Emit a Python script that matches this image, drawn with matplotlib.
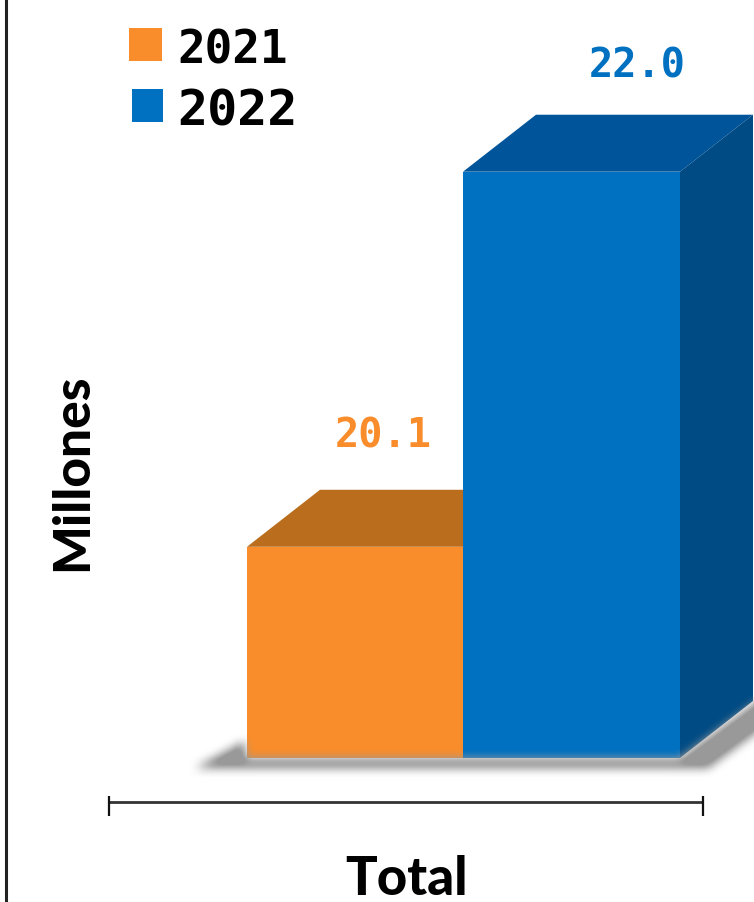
import numpy as np
import matplotlib
matplotlib.use('Agg')
import matplotlib.pyplot as plt
from matplotlib.patches import Polygon, Rectangle
from matplotlib.path import Path
from matplotlib.transforms import Affine2D

years = ['2021', '2022']
values = [20.1, 22.0]
colors = ['#F98D2B', '#0070C0']
top_colors = ['#B96D1D', '#00559A']
side_color = '#004B84'

W, H = 754, 903
base_value = 19.03
px_per_unit = 197.4
base_row = 759

fig = plt.figure(figsize=(W / 100, H / 100), dpi=100, facecolor='white')
ax = fig.add_axes([0, 0, 1, 1])
ax.patch.set_alpha(0)
ax.axis('off')
ax.set_xlim(0, W)
ax.set_ylim(base_value - (H - base_row) / px_per_unit, base_value + base_row / px_per_unit)

# pixel coordinates, origin top left
px = Affine2D().scale(1, -1).translate(0, H)


# soft grey shadow under the block
def blur(a, n):
    k = np.ones(n) / n
    for i in range(2):
        a = np.apply_along_axis(lambda r: np.convolve(r, k, mode='same'), 0, a)
        a = np.apply_along_axis(lambda r: np.convolve(r, k, mode='same'), 1, a)
    return a


xx, yy = np.meshgrid(np.arange(W + 40), np.arange(H))
pts = np.column_stack([xx.ravel(), yy.ravel()])
shape = Path([(196, 768), (244, 742), (244, 759), (680, 759), (780, 685), (780, 715), (708, 768), (196, 768)])
mask = shape.contains_points(pts).reshape(xx.shape).astype(float)
mask = blur(mask, 11)[:, :W]
rgba = np.ones((H, W, 4))
rgba[..., :3] = 0.6
rgba[..., 3] = np.clip(mask * 1.3, 0, 1)
fig.figimage(rgba, 0, 0, origin='upper', zorder=0)

bar_left = [247, 463]
bar_width = 217
depth_x, depth_y = 73, 57

heights = [v - base_value for v in values]
bars = ax.bar(bar_left, heights, width=bar_width, bottom=base_value, align='edge',
              color=colors, linewidth=0, zorder=3)

for b, tc in zip(bars, top_colors):
    x0 = b.get_x()
    x1 = x0 + b.get_width()
    top = H - ax.transData.transform((0, b.get_y() + b.get_height()))[1]
    ax.add_patch(Polygon([(x0, top), (x0 + depth_x, top - depth_y), (x1 + depth_x, top - depth_y), (x1, top)],
                         closed=True, facecolor=tc, edgecolor='none', transform=px,
                         zorder=2 if b is bars[0] else 4))

# right face of the tall bar
b = bars[1]
x1 = b.get_x() + b.get_width()
top = H - ax.transData.transform((0, b.get_y() + b.get_height()))[1]
ax.add_patch(Polygon([(x1, top), (x1 + depth_x, top - depth_y), (x1 + depth_x, base_row - depth_y), (x1, base_row)],
                     closed=True, facecolor=side_color, edgecolor='none', transform=px, zorder=4))

font = ['DejaVu Sans Mono', 'DejaVu Sans']
title_font = ['Lato', 'DejaVu Sans']

# value labels
ax.text(637, 66, '22.0', transform=px, color=colors[1], fontsize=29, fontweight='bold',
        family=font, ha='center', va='center', zorder=5)
ax.text(383, 436, '20.1', transform=px, color=colors[0], fontsize=29, fontweight='bold',
        family=font, ha='center', va='center', zorder=5)

# legend
ax.add_patch(Rectangle((129, 29), 33, 33, facecolor=colors[0], edgecolor='none', transform=px))
ax.add_patch(Rectangle((132, 90), 31, 33, facecolor=colors[1], edgecolor='none', transform=px))
ax.text(233, 51, years[0], transform=px, color='black', fontsize=33, fontweight='bold',
        family=font, ha='center', va='center')
ax.text(237, 112, years[1], transform=px, color='black', fontsize=36, fontweight='bold',
        family=font, ha='center', va='center')

# axis bracket and frame line
ax.plot([109, 703], [803, 803], transform=px, color='#333333', lw=2, solid_capstyle='butt')
ax.plot([109, 109], [797, 817], transform=px, color='#111111', lw=1.6, solid_capstyle='butt')
ax.plot([703, 703], [797, 817], transform=px, color='#111111', lw=1.6, solid_capstyle='butt')
ax.plot([6, 6], [0, H], transform=px, color='#222222', lw=2.2, solid_capstyle='butt')

ax.text(406, 880, 'Total', transform=px, color='black', fontsize=38, fontweight='black',
        family=title_font, ha='center', va='center')
ax.text(73, 472, 'Millones', transform=px, color='black', fontsize=37, fontweight='black',
        family=title_font, ha='center', va='center', rotation=90)

fig.savefig('out.png', dpi=100)
